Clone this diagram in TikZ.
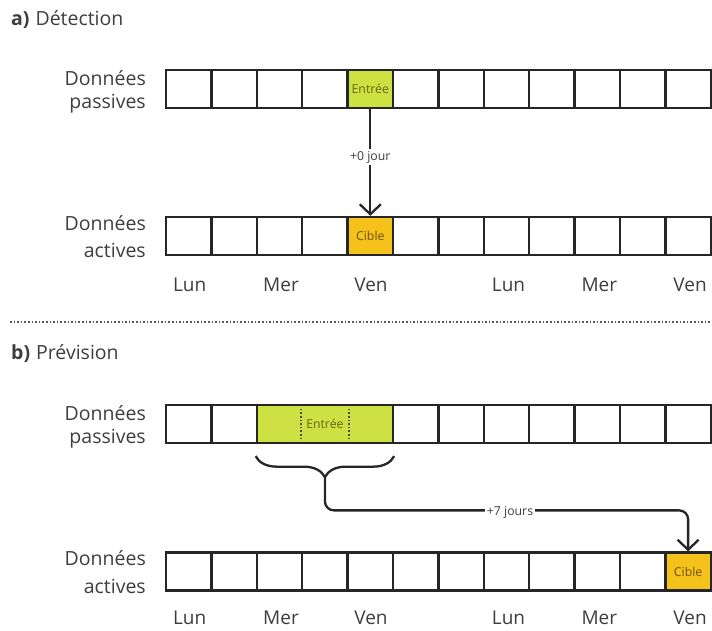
\documentclass[tikz,border=0pt]{standalone}
\usepackage{fontspec}
\setmainfont{Open Sans}
\usetikzlibrary{arrows.meta,decorations.pathreplacing,calc}
\definecolor{txt}{HTML}{3E3E3E}
\definecolor{lime}{HTML}{CDE142}
\definecolor{gold}{HTML}{F5C21B}
\definecolor{limetxt}{HTML}{5E6A14}
\definecolor{goldtxt}{HTML}{6E5208}
\tikzset{
  cell/.style={draw=black!85, line width=2.3pt, minimum width=45.4pt, minimum height=38pt, inner sep=0pt, anchor=center},
  rowlbl/.style={text=txt, anchor=east, font=\fontsize{19.5}{22}\selectfont, inner sep=0pt},
  daylbl/.style={text=txt, font=\fontsize{19}{22}\selectfont, inner sep=0pt},
  title/.style={text=txt, anchor=west, font=\fontsize{19.5}{22}\selectfont, inner sep=0pt},
  small/.style={text=txt, font=\fontsize{12.3}{14}\selectfont, fill=white, inner sep=2pt},
  incell/.style={font=\fontsize{12.3}{14}\selectfont},
  conn/.style={line width=2.3pt, draw=black!85, -{Straight Barb[length=10pt,width=21pt,line width=2.3pt]}},
}
\begin{document}
\begin{tikzpicture}[x=1pt,y=-1pt]
\useasboundingbox[fill=white] (0,0) rectangle (712,630);

% section titles
\node[title] (ta) at (11,20) {\textbf{a)}\hspace{6pt}Détection};
\node[title] (tb) at (11,354) {\textbf{b)}\hspace{6pt}Prévision};

% separator
\draw[dotted, line width=1.6pt, draw=black!65] (10,322) -- (712,322);

% row labels
\node[rowlbl] (la1) at (146,78) {Données};
\node[rowlbl] (la2) at (146,104) {passives};
\node[rowlbl] (la3) at (146,223) {Données};
\node[rowlbl] (la4) at (146,250) {actives};
\node[rowlbl] (lb1) at (146,413) {Données};
\node[rowlbl] (lb2) at (146,439) {passives};
\node[rowlbl] (lb3) at (146,558) {Données};
\node[rowlbl] (lb4) at (146,586) {actives};

% cell strips
\foreach \i in {1,...,12}{
  \pgfmathsetmacro{\cx}{166+45.4*(\i-0.5)}
  \node[cell] (pa-\i) at (\cx,89) {};
  \node[cell] (aa-\i) at (\cx,236) {};
  \node[cell] (pb-\i) at (\cx,424) {};
  \node[cell] (ab-\i) at (\cx,571.5) {};
}

% highlighted cells, section a
\node[cell, fill=lime, text=limetxt, incell] (ina) at (pa-5) {Entrée};
\node[cell, fill=gold, text=goldtxt, incell] (cia) at (aa-5) {Cible};

% highlighted cells, section b
\node[cell, fill=lime, minimum width=136.2pt] (inb) at (pb-4) {};
\draw[dotted, line width=1.6pt, draw=black!70] ($(pb-4.north west)+(0,5)$) -- ($(pb-4.south west)+(0,-5)$);
\draw[dotted, line width=1.6pt, draw=black!70] ($(pb-4.north east)+(0,5)$) -- ($(pb-4.south east)+(0,-5)$);
\node[text=limetxt, incell] (inbt) at (pb-4) {Entrée};
\node[cell, fill=gold, text=goldtxt, incell] (cib) at (ab-12) {Cible};

% weekdays
\foreach \r/\y in {a/285,b/618}{
  \node[daylbl] (d\r1) at (189.7,\y) {Lun};
  \node[daylbl] (d\r3) at (281,\y) {Mer};
  \node[daylbl] (d\r5) at (371,\y) {Ven};
  \node[daylbl] (d\r8) at (508.5,\y) {Lun};
  \node[daylbl] (d\r10) at (599.3,\y) {Mer};
  \node[daylbl] (d\r12) at (690.1,\y) {Ven};
}

% section a link
\draw[conn] (ina.south) -- node[small, pos=0.45] (ja) {+0 jour} (cia.north);

% section b brace and link
\draw[line width=2.3pt, draw=black!85, decorate,
      decoration={brace, mirror, amplitude=21pt, aspect=0.5}]
  ($(inb.south west)+(0,12)$) -- ($(inb.south east)+(0,12)$);
\coordinate (tip) at ($(inb.south)+(0,34)$);
\coordinate (bend) at ($(cib.north)+(0,-41)$);
\draw[conn, rounded corners=9pt] (tip) |- (bend) -- (cib.north);
\node[small] (jb) at (510,512) {+7 jours};
\end{tikzpicture}
\end{document}
